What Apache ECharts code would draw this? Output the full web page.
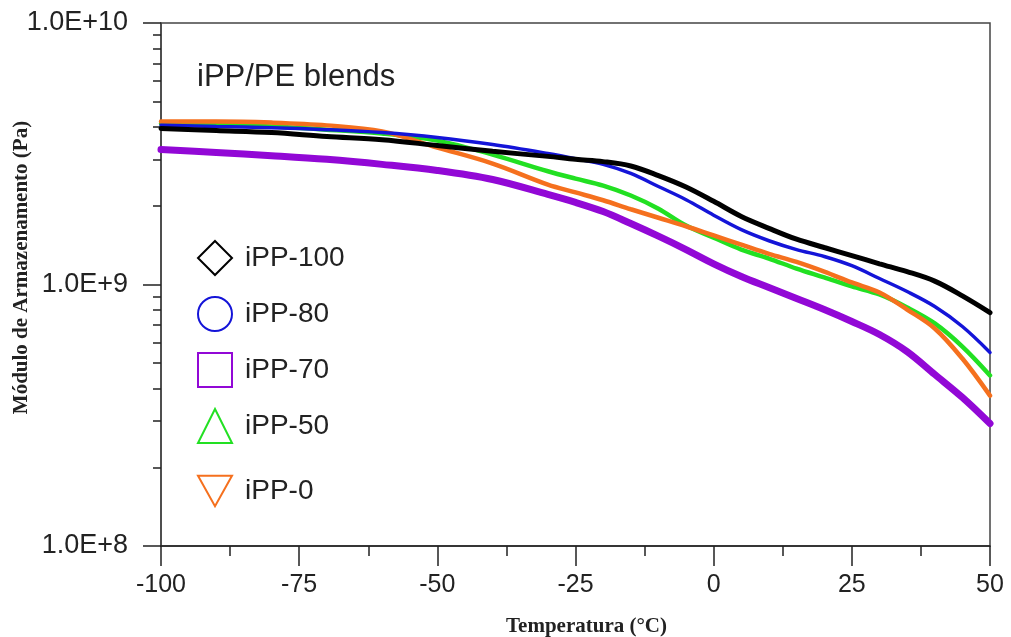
<!DOCTYPE html>
<html>
<head>
<meta charset="utf-8">
<script src="https://cdn.jsdelivr.net/npm/echarts@6/dist/echarts.min.js"></script>
<style>
html,body{margin:0;padding:0;background:#fff;}
#chart{width:1011px;height:637px;}
</style>
</head>
<body>
<div id="chart"></div>
<script>
// Temperature (°C)
const temps = [-100,-90,-80,-70,-60,-50,-40,-30,-25,-20,-15,-10,-5,0,5,10,15,20,25,30,35,40,45,50];
// Storage modulus (Pa)
const iPP100 = [3.95e9,3.88e9,3.81e9,3.68e9,3.58e9,3.40e9,3.23e9,3.09e9,3.01e9,2.95e9,2.84e9,2.61e9,2.36e9,2.08e9,1.82e9,1.64e9,1.49e9,1.385e9,1.29e9,1.20e9,1.12e9,1.03e9,9.05e8,7.81e8];
const iPP80  = [4.06e9,4.02e9,3.98e9,3.91e9,3.81e9,3.65e9,3.43e9,3.17e9,3.03e9,2.88e9,2.66e9,2.37e9,2.11e9,1.84e9,1.62e9,1.47e9,1.36e9,1.28e9,1.18e9,1.054e9,9.40e8,8.24e8,6.91e8,5.50e8];
const iPP70  = [3.28e9,3.20e9,3.11e9,3.01e9,2.88e9,2.73e9,2.52e9,2.21e9,2.06e9,1.90e9,1.71e9,1.53e9,1.36e9,1.20e9,1.073e9,9.74e8,8.84e8,8.02e8,7.22e8,6.44e8,5.54e8,4.53e8,3.70e8,2.94e8];
const iPP50  = [4.13e9,4.09e9,4.02e9,3.91e9,3.78e9,3.55e9,3.14e9,2.71e9,2.54e9,2.39e9,2.19e9,1.95e9,1.68e9,1.51e9,1.36e9,1.257e9,1.15e9,1.064e9,9.83e8,9.16e8,8.17e8,7.10e8,5.79e8,4.49e8];
const iPP0   = [4.20e9,4.20e9,4.16e9,4.06e9,3.85e9,3.34e9,2.90e9,2.41e9,2.25e9,2.10e9,1.94e9,1.80e9,1.67e9,1.54e9,1.42e9,1.31e9,1.22e9,1.12e9,1.018e9,9.32e8,8.02e8,6.79e8,5.21e8,3.76e8];

const seriesNames = ['iPP-100','iPP-80','iPP-70','iPP-50','iPP-0'];
const seriesValues = [iPP100, iPP80, iPP70, iPP50, iPP0];
const seriesColors = ['#000000','#1414d8','#9208d6','#22e022','#f5701e'];
const seriesWidths = [5, 3.5, 7, 4.5, 4.5];
const legendIcons = ['diamond','circle','rect','triangle','path://M0,0 L20,0 L10,18 Z'];
const drawOrder = [2, 3, 4, 1, 0];

const chart = echarts.init(document.getElementById('chart'), null, {renderer:'canvas'});

const series = drawOrder.map(i => ({
  name: seriesNames[i],
  type: 'line',
  smooth: 0.35,
  showSymbol: false,
  symbol: 'none',
  color: seriesColors[i],
  lineStyle: {color: seriesColors[i], width: seriesWidths[i], cap:'round'},
  data: temps.map((t, k) => [t, seriesValues[i][k]]),
  z: 2 + drawOrder.indexOf(i)
}));

const legendCommon = {
  orient: 'vertical',
  left: 197,
  itemWidth: 34,
  itemHeight: 34,
  itemGap: 20,
  padding: 0,
  selectedMode: false,
  itemStyle: {color: 'transparent', borderWidth: 2, borderColor: 'inherit'},
  lineStyle: {opacity: 0},
  textStyle: {fontFamily: 'Liberation Sans, Arial', fontSize: 28, color: '#222', lineHeight: 34, padding: [0,0,0,8]}
};

chart.setOption({
  backgroundColor: '#fff',
  animation: false,
  title: {
    text: 'iPP/PE blends',
    left: 192, top: 57,
    textStyle: {fontFamily: 'Liberation Sans, Arial', fontSize: 31, fontWeight: 'normal', color: '#222'}
  },
  legend: [
    Object.assign({}, legendCommon, {
      top: 240,
      data: seriesNames.slice(0,4).map((n, i) => ({name: n, icon: legendIcons[i], itemStyle: {color:'transparent', borderColor: seriesColors[i], borderWidth: 2}}))
    }),
    Object.assign({}, legendCommon, {
      top: 474,
      data: [{name: seriesNames[4], icon: legendIcons[4], itemStyle: {color:'transparent', borderColor: seriesColors[4], borderWidth: 2}}]
    })
  ],
  grid: {
    left: 161, right: 21, top: 23, bottom: 91,
    show: true, borderColor: '#444', borderWidth: 1.5, backgroundColor: 'transparent',
    containLabel: false,
    outerBoundsMode: 'none'
  },
  xAxis: {
    type: 'value',
    min: -100, max: 50, interval: 25,
    name: 'Temperatura (°C)',
    nameLocation: 'middle',
    nameGap: 70,
    nameMoveOverlap: false,
    nameTextStyle: {fontFamily: 'Liberation Serif, Times New Roman', fontWeight: 'bold', fontSize: 21, color: '#222', padding: [0,0,0,22]},
    axisLine: {show: true, onZero: false, lineStyle: {color: '#222', width: 1.5}},
    axisTick: {show: true, inside: false, length: 20, lineStyle: {color: '#222', width: 1.5}},
    minorTick: {show: true, splitNumber: 2, length: 10, lineStyle: {color: '#222', width: 1.5}},
    axisLabel: {fontFamily: 'Liberation Sans, Arial', fontSize: 25, color: '#222', margin: 27},
    splitLine: {show: false},
    minorSplitLine: {show: false}
  },
  yAxis: {
    type: 'log',
    logBase: 10,
    min: 1e8, max: 1e10,
    name: 'Módulo de Armazenamento (Pa)',
    nameLocation: 'middle',
    nameGap: 129,
    nameMoveOverlap: false,
    nameTextStyle: {fontFamily: 'Liberation Serif, Times New Roman', fontWeight: 'bold', fontSize: 21, color: '#222', padding: [0,0,0,34]},
    axisLine: {show: true, onZero: false, lineStyle: {color: '#444', width: 1.5}},
    axisTick: {show: true, inside: false, length: 18, lineStyle: {color: '#222', width: 1.5}},
    minorTick: {show: true, splitNumber: 9, length: 8, lineStyle: {color: '#222', width: 1.5}},
    axisLabel: {
      fontFamily: 'Liberation Sans, Arial', fontSize: 27, color: '#222', margin: 33,
      formatter: v => '1.0E+' + Math.round(Math.log10(v))
    },
    splitLine: {show: false},
    minorSplitLine: {show: false}
  },
  series: series
});
</script>
</body>
</html>
